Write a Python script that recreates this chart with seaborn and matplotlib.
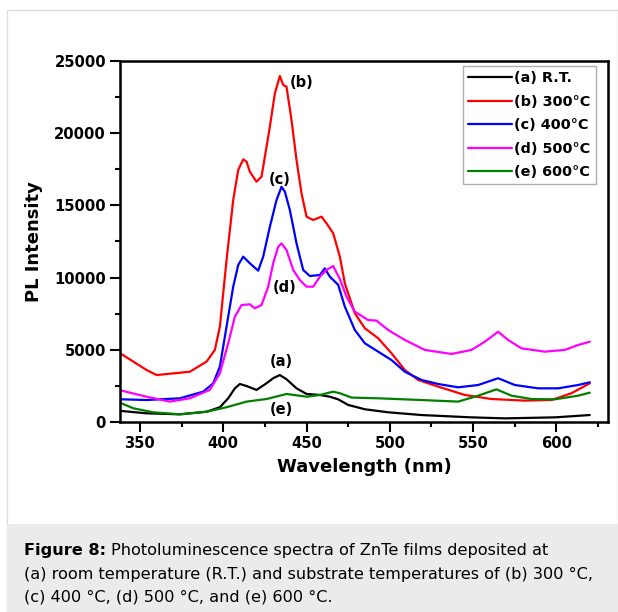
import matplotlib
matplotlib.use("Agg")
import matplotlib.pyplot as plt
import seaborn as sns
import pandas as pd
from matplotlib.patches import Rectangle

# wavelength (nm) / PL intensity
wl_a = [339, 354, 374, 390, 398, 403, 407, 410, 414, 420, 426, 430, 434, 438, 444,
        450, 458, 464, 469, 475, 485, 499, 519, 549, 569, 599, 620]
pl_a = [760, 600, 530, 710, 1020, 1640, 2330, 2630, 2490, 2220, 2680, 3030, 3250, 2960, 2330,
        1940, 1870, 1750, 1570, 1180, 880, 670, 480, 320, 250, 320, 480]

wl_b = [339, 354, 360, 380, 390, 395, 398, 402, 406, 409, 412, 414, 416, 420, 423, 426,
        428, 431, 434, 436, 438, 441, 444, 447, 450, 454, 459, 462, 466, 470, 473,
        479, 485, 493, 501, 509, 517, 529, 545, 561, 581, 597, 609, 620]
pl_b = [4700, 3600, 3250, 3480, 4180, 4990, 6600, 11200, 15370, 17450, 18190, 18030, 17330,
        16640, 16990, 19060, 20450, 22760, 23960, 23340, 23220, 20910, 18140, 15840, 14220,
        13990, 14220, 13760, 13070, 11450, 9600, 7530, 6490, 5800, 4760, 3600, 2910, 2450,
        1870, 1590, 1480, 1520, 1990, 2680]

wl_c = [339, 354, 374, 388, 394, 398, 402, 406, 409, 412, 416, 421, 424, 428, 432, 435,
        437, 440, 444, 448, 452, 458, 461, 464, 469, 473, 479, 485, 493, 501, 509, 519,
        529, 541, 553, 565, 575, 589, 601, 613, 620]
pl_c = [1570, 1520, 1640, 2100, 2680, 3830, 6600, 9370, 10870, 11450, 10990, 10480, 11450,
        13520, 15370, 16290, 15950, 14680, 12370, 10530, 10110, 10180, 10640, 10060, 9500,
        7990, 6370, 5450, 4870, 4290, 3480, 2910, 2630, 2400, 2560, 3030, 2560, 2330, 2330,
        2560, 2750]

wl_d = [339, 354, 368, 380, 392, 398, 403, 407, 411, 416, 419, 423, 427, 430, 433, 435,
        438, 442, 446, 450, 454, 458, 462, 466, 470, 474, 479, 487, 492, 499, 509, 521,
        537, 549, 557, 565, 571, 579, 593, 605, 613, 620]
pl_d = [2170, 1750, 1410, 1640, 2220, 3370, 5450, 7290, 8100, 8150, 7870, 8100, 9370, 10990,
        12140, 12370, 11910, 10530, 9830, 9370, 9370, 10060, 10530, 10800, 9900, 8680, 7640,
        7060, 7020, 6370, 5680, 4990, 4710, 4990, 5560, 6250, 5680, 5100, 4870, 4990, 5330,
        5560]

wl_e = [339, 346, 358, 374, 390, 402, 414, 426, 438, 450, 458, 466, 470, 477, 493, 519,
        541, 553, 564, 573, 585, 599, 613, 620]
pl_e = [1290, 950, 670, 530, 710, 1020, 1410, 1590, 1940, 1750, 1870, 2100, 1990, 1690,
        1640, 1520, 1410, 1820, 2260, 1820, 1590, 1570, 1820, 2030]

labels = ["(a) R.T.", "(b) 300°C", "(c) 400°C", "(d) 500°C", "(e) 600°C"]
colors = ["#000000", "#ff0000", "#0000ff", "#ff00ff", "#008000"]

frames = []
for lab, w, p in zip(labels, [wl_a, wl_b, wl_c, wl_d, wl_e], [pl_a, pl_b, pl_c, pl_d, pl_e]):
    frames.append(pd.DataFrame({"wl": w, "pl": p, "sample": lab}))
df = pd.concat(frames, ignore_index=True)

sns.set_style("ticks")
plt.rcParams["font.family"] = ["DejaVu Sans"]
for key in ["text.color", "axes.labelcolor", "xtick.color", "ytick.color", "axes.edgecolor"]:
    plt.rcParams[key] = "black"

fig = plt.figure(figsize=(6.18, 6.12), dpi=100)
ax = fig.add_axes([0.194, 0.3105, 0.79, 0.5898])

sns.lineplot(data=df, x="wl", y="pl", hue="sample", palette=colors, sort=False,
             estimator=None, linewidth=1.6, ax=ax)

ax.set_xlim(338, 631)
ax.set_ylim(0, 25000)
ax.set_xticks([350, 400, 450, 500, 550, 600])
ax.set_xticks([375, 425, 475, 525, 575, 625], minor=True)
ax.set_yticks([0, 5000, 10000, 15000, 20000, 25000])
ax.set_yticks([2500, 7500, 12500, 17500, 22500], minor=True)
ax.tick_params(which="major", direction="out", length=7, width=1.5, labelsize=10.6, pad=3)
ax.tick_params(which="minor", direction="out", length=3.6, width=1.5)
for lbl in ax.get_xticklabels() + ax.get_yticklabels():
    lbl.set_fontweight("bold")
for s in ax.spines.values():
    s.set_linewidth(1.8)
    s.set_visible(True)

ax.set_xlabel("Wavelength (nm)", fontsize=13, fontweight="bold", labelpad=5)
ax.set_ylabel("PL Intensity", fontsize=13, fontweight="bold", labelpad=8)

leg = ax.legend(loc="upper right", bbox_to_anchor=(0.975, 0.986), fontsize=10.4,
                frameon=True, fancybox=False, edgecolor="#999999", handlelength=3.0,
                handletextpad=0.2, labelspacing=0.66, borderpad=0.35, borderaxespad=0)
leg.get_frame().set_linewidth(1.0)
for t in leg.get_texts():
    t.set_fontweight("bold")

for txt, x, y in [("(b)", 447, 23500), ("(c)", 434, 16760), ("(d)", 437, 9280),
                  ("(a)", 434.6, 4220), ("(e)", 435, 830)]:
    ax.text(x, y, txt, fontsize=10.5, fontweight="bold", ha="center", va="center")

# page frame and caption band
fig.patches.append(Rectangle((7 / 618, 0), 611 / 618, 1 - 10 / 612, transform=fig.transFigure,
                             facecolor="none", edgecolor="#dddddd", linewidth=1.0))
fig.patches.append(Rectangle((7 / 618, 0), 611 / 618, 88 / 612, transform=fig.transFigure,
                             facecolor="#ebebeb", edgecolor="none"))

cap_x = 24 / 618
cap_size = 11.6
head = fig.text(cap_x, 1 - 551 / 612, "Figure 8:", fontsize=cap_size, fontweight="bold",
                va="center")
fig.canvas.draw()
bb = head.get_window_extent(renderer=fig.canvas.get_renderer())
fig.text(bb.x1 / 618 + 5 / 618, 1 - 551 / 612,
         "Photoluminescence spectra of ZnTe films deposited at",
         fontsize=cap_size, va="center")
fig.text(cap_x, 1 - 574 / 612,
         "(a) room temperature (R.T.) and substrate temperatures of (b) 300 °C,",
         fontsize=cap_size, va="center")
fig.text(cap_x, 1 - 597 / 612, "(c) 400 °C, (d) 500 °C, and (e) 600 °C.",
         fontsize=cap_size, va="center")

fig.savefig("out.png", dpi=100)
